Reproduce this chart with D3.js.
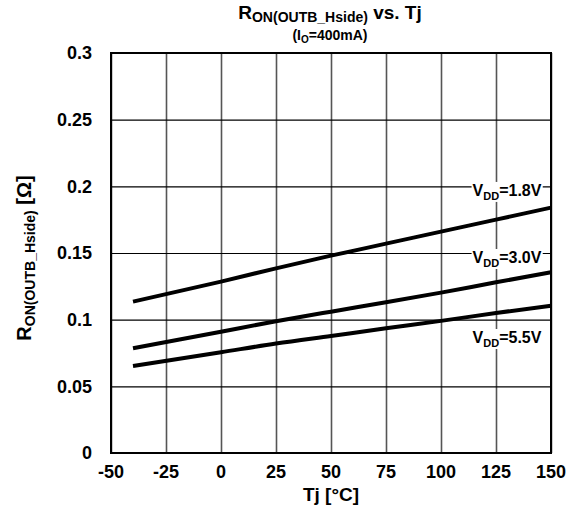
<!DOCTYPE html>
<html><head><meta charset="utf-8">
<script src="https://cdn.jsdelivr.net/npm/d3@7"></script>
<style>
body{margin:0;background:#fff;}
text{font-family:"Liberation Sans",Arial,sans-serif;font-weight:bold;fill:#000;}
</style></head>
<body><svg id="c" width="576" height="527"></svg>
<script>
const temps = [-40, 0, 25, 50, 75, 100, 125, 150];
const vdd18 = [0.1135, 0.1285, 0.1385, 0.148, 0.157, 0.166, 0.175, 0.184];
const vdd30 = [0.0785, 0.091, 0.0988, 0.106, 0.113, 0.1203, 0.128, 0.1355];
const vdd55 = [0.0653, 0.0756, 0.0821, 0.0878, 0.0935, 0.0991, 0.105, 0.1105];
const seriesNames = ["1.8V", "3.0V", "5.5V"];
const xTicks = [-50, -25, 0, 25, 50, 75, 100, 125, 150];
const yTicks = [0, 0.05, 0.1, 0.15, 0.2, 0.25, 0.3];
const yTickLabels = ["0", "0.05", "0.1", "0.15", "0.2", "0.25", "0.3"];

const svg = d3.select("#c");
const L = 111, R = 551, T = 53, B = 453;
const x = d3.scaleLinear().domain([-50, 150]).range([L, R]);
const y = d3.scaleLinear().domain([0, 0.3]).range([B, T]);

// grid
const gx = svg.append("g").attr("transform", `translate(0,${B})`)
  .call(d3.axisBottom(x).tickValues(xTicks).tickSize(-(B - T)).tickFormat(""));
gx.select(".domain").remove();
gx.selectAll("line").attr("stroke", "#555").attr("stroke-width", 1.6);
const gy = svg.append("g").attr("transform", `translate(${L},0)`)
  .call(d3.axisLeft(y).tickValues(yTicks).tickSize(-(R - L)).tickFormat(""));
gy.select(".domain").remove();
gy.selectAll("line").attr("stroke", "#000").attr("stroke-width", 1.2);

// lines
const sets = [vdd18, vdd30, vdd55];
const line = d3.line().x((d, i) => x(temps[i])).y(d => y(d)).curve(d3.curveMonotoneX);
sets.forEach(s => {
  svg.append("path").datum(s).attr("d", line).attr("fill", "none")
    .attr("stroke", "#000").attr("stroke-width", 4).attr("stroke-linecap", "butt");
});

// labels
const labelY = [0.1928, 0.1425, 0.0825];
seriesNames.forEach((n, i) => {
  const g = svg.append("g");
  const t = g.append("text").attr("x", x(130)).attr("y", y(labelY[i]))
    .attr("text-anchor", "middle").style("font-size", "16px");
  t.append("tspan").text("V");
  t.append("tspan").attr("dy", 4).style("font-size", "11px").text("DD");
  t.append("tspan").attr("dy", -4).text("=" + n);
  const bb = t.node().getBBox();
  g.insert("rect", "text").attr("x", bb.x - 1).attr("y", bb.y)
    .attr("width", bb.width + 2).attr("height", bb.height).attr("fill", "#fff");
});

// border
svg.append("rect").attr("x", L).attr("y", T).attr("width", R - L).attr("height", B - T)
  .attr("fill", "none").attr("stroke", "#000").attr("stroke-width", 2);

// tick labels
svg.append("g").selectAll("text").data(xTicks).join("text")
  .attr("x", d => x(d)).attr("y", 478).attr("text-anchor", "middle")
  .style("font-size", "18px").text(d => d);
svg.append("g").selectAll("text").data(yTicks).join("text")
  .attr("x", 92).attr("y", d => y(d)).attr("dy", "0.36em").attr("text-anchor", "end")
  .style("font-size", "18px").text((d, i) => yTickLabels[i]);

// axis titles
svg.append("text").attr("x", 331).attr("y", 501).attr("text-anchor", "middle")
  .style("font-size", "19px").text("Tj [°C]");
const yl = svg.append("text").attr("transform", "translate(31,258) rotate(-90)")
  .attr("text-anchor", "middle").style("font-size", "20px");
yl.append("tspan").text("R");
yl.append("tspan").attr("dy", 4).style("font-size", "14px").text("ON(OUTB_Hside)");
yl.append("tspan").attr("dy", -4).text(" [Ω]");

// title
const tt = svg.append("text").attr("x", 330).attr("y", 19).attr("text-anchor", "middle")
  .style("font-size", "19px");
tt.append("tspan").text("R");
tt.append("tspan").attr("dy", 3).style("font-size", "14px").text("ON(OUTB_Hside)");
tt.append("tspan").attr("dy", -3).text(" vs. Tj");
const st = svg.append("text").attr("x", 330).attr("y", 40).attr("text-anchor", "middle")
  .style("font-size", "14px");
st.append("tspan").text("(I");
st.append("tspan").attr("dy", 3).style("font-size", "10px").text("O");
st.append("tspan").attr("dy", -3).text("=400mA)");
</script></body></html>
